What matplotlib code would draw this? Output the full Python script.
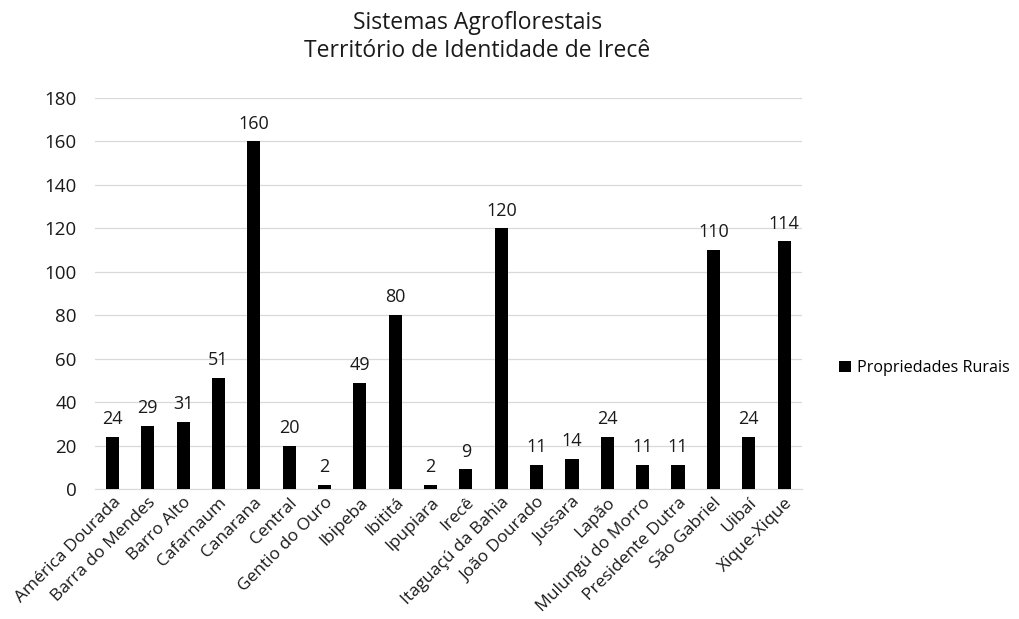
import matplotlib
matplotlib.use('Agg')

import matplotlib.pyplot as plt
import numpy as np

municipios = [
    "América Dourada", "Barra do Mendes", "Barro Alto", "Cafarnaum", "Canarana",
    "Central", "Gentio do Ouro", "Ibipeba", "Ibititá", "Ipupiara", "Irecê",
    "Itaguaçú da Bahia", "João Dourado", "Jussara", "Lapão", "Mulungú do Morro",
    "Presidente Dutra", "São Gabriel", "Uibaí", "Xique-Xique",
]
propriedades = [24, 29, 31, 51, 160, 20, 2, 49, 80, 2, 9, 120, 11, 14, 24, 11, 11, 110, 24, 114]
y_ticks = list(range(0, 181, 20))

plt.rcParams['font.family'] = ['Open Sans', 'DejaVu Sans']
cor_texto = '#1a1a1a'

fig = plt.figure(figsize=(10.2, 6.19), dpi=100)
ax = fig.add_axes([0.093, 0.21, 0.693, 0.632])

x = np.arange(len(municipios))
barras = ax.bar(x, propriedades, width=0.37, color='black', label='Propriedades Rurais', zorder=3)

for xi, v in zip(x, propriedades):
    ax.text(xi, v + 4, str(v), ha='center', va='bottom', fontsize=13, color=cor_texto)

ax.set_xlim(-0.5, len(municipios) - 0.5)
ax.set_ylim(0, 180)
ax.set_yticks(y_ticks)
ax.yaxis.grid(True, color='#d9d9d9', linewidth=0.9, zorder=0)
for lado in ['top', 'right', 'left']:
    ax.spines[lado].set_visible(False)
ax.spines['bottom'].set_color('#d9d9d9')
ax.tick_params(axis='both', length=0, labelcolor=cor_texto)
ax.tick_params(axis='y', pad=13, labelsize=13.5)
ax.tick_params(axis='x', pad=4, labelsize=12.5)

ax.set_xticks(x)
ax.set_xticklabels(municipios, rotation=45, ha='right', rotation_mode='anchor')

fig.text(0.468, 0.94, "Sistemas Agroflorestais\nTerritório de Identidade de Irecê",
         ha='center', va='center', fontsize=16.5, color=cor_texto, linespacing=1.2)

fig.legend(handles=[barras], labels=['Propriedades Rurais'], loc='center left',
           bbox_to_anchor=(0.823, 0.405), frameon=False, fontsize=11.6,
           borderpad=0, borderaxespad=0,
           handlelength=0.7, handleheight=0.7, handletextpad=0.4)

fig.savefig('out.png', dpi=100)
